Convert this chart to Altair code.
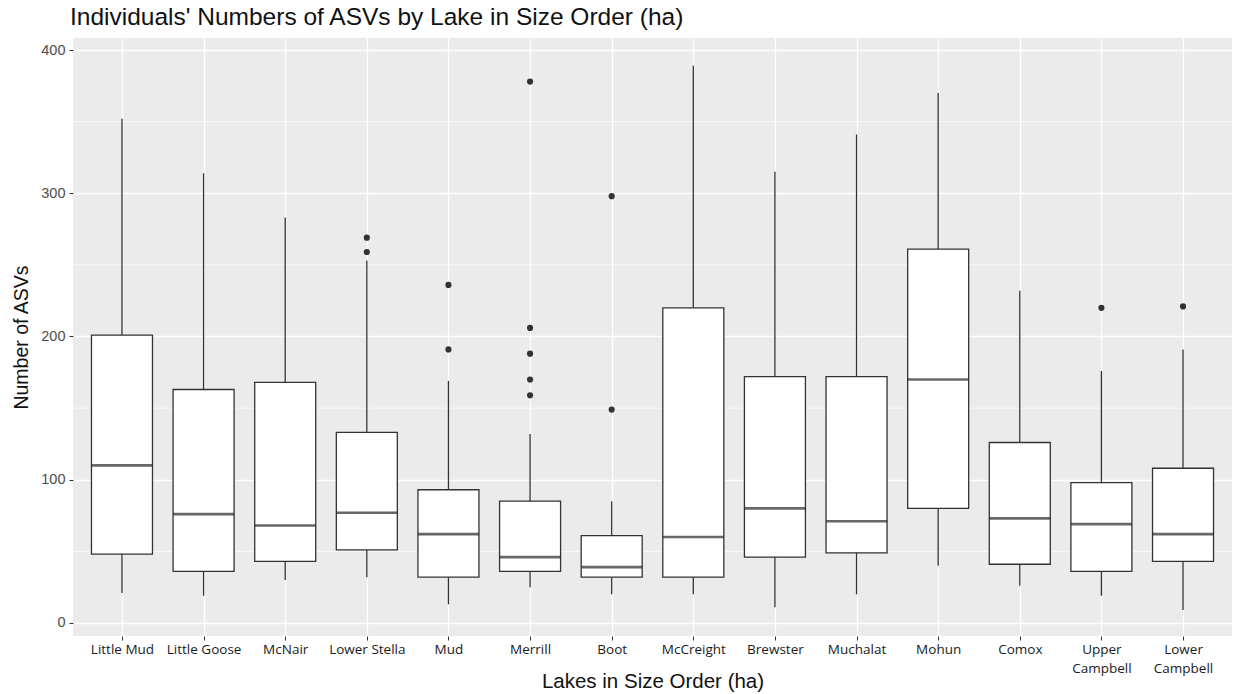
import altair as alt
import pandas as pd

lakes = ["Little Mud", "Little Goose", "McNair", "Lower Stella", "Mud", "Merrill", "Boot",
         "McCreight", "Brewster", "Muchalat", "Mohun", "Comox", "Upper Campbell", "Lower Campbell"]
whisk_lo = [21, 19, 30, 32, 13, 25, 20, 20, 11, 20, 40, 26, 19, 9]
q1       = [48, 36, 43, 51, 32, 36, 32, 32, 46, 49, 80, 41, 36, 43]
median   = [110, 76, 68, 77, 62, 46, 39, 60, 80, 71, 170, 73, 69, 62]
q3       = [201, 163, 168, 133, 93, 85, 61, 220, 172, 172, 261, 126, 98, 108]
whisk_hi = [352, 314, 283, 253, 169, 132, 85, 389, 315, 341, 370, 232, 176, 191]

out_lake = ["Lower Stella", "Lower Stella", "Mud", "Mud", "Merrill", "Merrill", "Merrill",
            "Merrill", "Merrill", "Boot", "Boot", "Upper Campbell", "Lower Campbell"]
out_val = [269, 259, 236, 191, 378, 206, 188, 170, 159, 298, 149, 220, 221]

minor_y = [50, 150, 250, 350]

stats = pd.DataFrame({"lake": lakes, "lo": whisk_lo, "q1": q1, "med": median,
                      "q3": q3, "hi": whisk_hi})
outs = pd.DataFrame({"lake": out_lake, "v": out_val})
minor = pd.DataFrame({"m": minor_y})

INK = "#333333"
xscale = alt.Scale(type="point", padding=0.6, domain=lakes)
yscale = alt.Scale(domain=[-9.1, 408.4], nice=False, zero=False)

x_enc = alt.X("lake:N", sort=lakes, scale=xscale, title="Lakes in Size Order (ha)",
              axis=alt.Axis(grid=True, gridColor="white", gridWidth=1.3, domain=False,
                            tickColor=INK, tickSize=4, tickWidth=1, labelAngle=0,
                            labelFont="Open Sans", labelFontSize=13.5, labelColor="#1A1A1A",
                            labelPadding=2, labelLineHeight=19,
                            labelExpr="indexof(datum.label, 'Campbell') > 0 ? split(datum.label, ' ') : datum.label",
                            titleFont="Liberation Sans", titleFontSize=20.5, titleColor="#111111",
                            titleFontWeight="normal", titleY=51, titleBaseline="alphabetic"))
y_axis = alt.Axis(values=[0, 100, 200, 300, 400], grid=True, gridColor="white", gridWidth=1.3,
                  domain=False, tickColor=INK, tickSize=4, tickWidth=1,
                  labelFont="Liberation Sans", labelFontSize=14.5, labelColor="#4D4D4D",
                  labelPadding=4, title="Number of ASVs", titleFont="Liberation Sans",
                  titleFontSize=19.5, titleColor="#111111", titleFontWeight="normal",
                  titlePadding=9)

minor_rules = alt.Chart(minor).mark_rule(color="white", strokeWidth=0.7).encode(
    y=alt.Y("m:Q", scale=yscale, axis=y_axis)
)

whiskers = alt.Chart(stats).mark_rule(color=INK, strokeWidth=1.3).encode(
    x=x_enc,
    y=alt.Y("lo:Q", scale=yscale, axis=y_axis),
    y2="hi:Q",
)

boxes = alt.Chart(stats).mark_bar(fill="white", stroke=INK, strokeWidth=1.3, size=61).encode(
    x=x_enc,
    y=alt.Y("q1:Q", scale=yscale, axis=y_axis),
    y2="q3:Q",
)

meds = alt.Chart(stats).mark_tick(color="#262626", thickness=2.6, size=61, orient="horizontal").encode(
    x=x_enc,
    y=alt.Y("med:Q", scale=yscale, axis=y_axis),
)

points = alt.Chart(outs).mark_circle(color=INK, opacity=1, size=38).encode(
    x=x_enc,
    y=alt.Y("v:Q", scale=yscale, axis=y_axis),
)

chart = alt.layer(minor_rules, whiskers, boxes, meds, points).properties(
    width=1159, height=598,
    autosize=alt.AutoSizeParams(type="none"),
    padding={"left": 73, "top": 38, "right": 6, "bottom": 58},
    title=alt.Title("Individuals' Numbers of ASVs by Lake in Size Order (ha)",
                    anchor="start", frame="group", font="Liberation Sans", fontSize=24.5,
                    fontWeight="normal", color="#111111", offset=8, dx=-3),
).configure(background="white").configure_view(fill="#EBEBEB", strokeWidth=0)

chart.save("out.html", embed_options={"renderer": "svg", "actions": False})
